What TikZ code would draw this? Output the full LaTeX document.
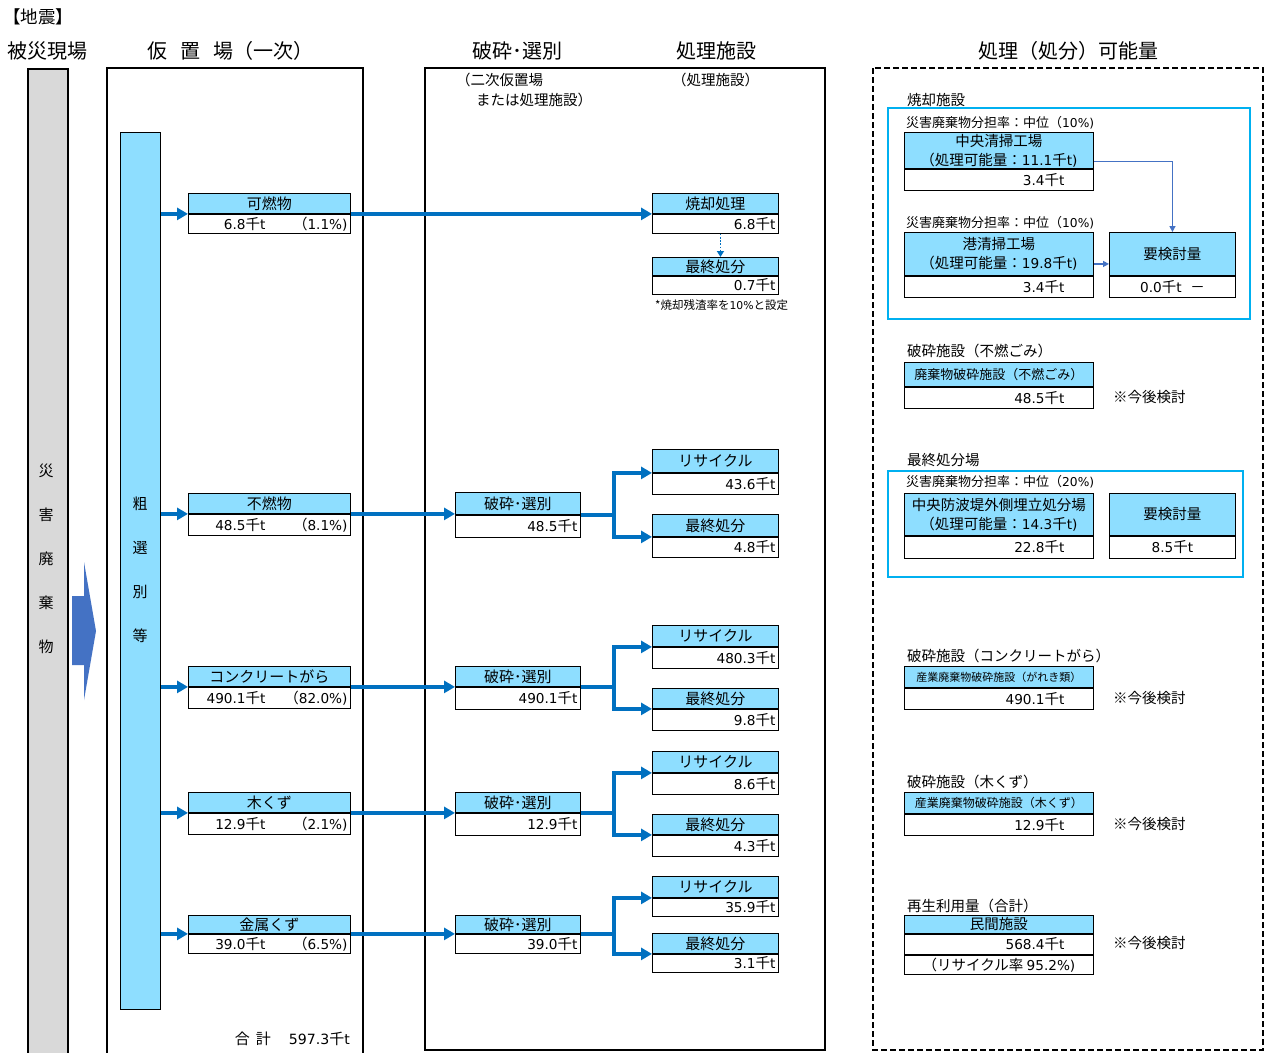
\documentclass[tikz,border=0pt]{standalone}
\usepackage{fontspec}
\setmainfont{Noto Sans CJK JP}
\newfontfamily\latfont{DejaVu Sans}[Scale=0.94]
\newXeTeXintercharclass\latcls
\XeTeXcharclass`0=\latcls \XeTeXcharclass`1=\latcls \XeTeXcharclass`2=\latcls
\XeTeXcharclass`3=\latcls \XeTeXcharclass`4=\latcls \XeTeXcharclass`5=\latcls
\XeTeXcharclass`6=\latcls \XeTeXcharclass`7=\latcls \XeTeXcharclass`8=\latcls
\XeTeXcharclass`9=\latcls \XeTeXcharclass`.=\latcls \XeTeXcharclass`\%=\latcls
\XeTeXcharclass`t=\latcls \XeTeXcharclass`)=\latcls
\XeTeXinterchartoks 0 \latcls = {\begingroup\latfont}
\XeTeXinterchartoks 4095 \latcls = {\begingroup\latfont}
\XeTeXinterchartoks \latcls 0 = {\endgroup}
\XeTeXinterchartoks \latcls 4095 = {\endgroup}
\usetikzlibrary{arrows.meta}
\definecolor{cy}{RGB}{142,222,255}
\definecolor{fblue}{RGB}{0,112,192}
\definecolor{sblue}{RGB}{68,114,196}
\definecolor{frm}{RGB}{0,176,240}
\definecolor{gbar}{RGB}{217,217,217}
\newcommand{\fs}[1]{\fontsize{#1}{#1}\selectfont}
% name, x, y, w, h1, h2, header, value
\newcommand{\tbox}[8]{%
  \node[hd, minimum width=#4pt, minimum height=#5pt, anchor=north west] (#1h) at (#2,#3) {#7};
  \node[vl, minimum width=#4pt, minimum height=#6pt, anchor=north west] (#1v) at (#1h.south west) {\makebox[\dimexpr#4pt-6pt\relax][r]{#8}};
}
\begin{document}
\XeTeXinterchartokenstate=1
\begin{tikzpicture}[x=1pt,y=-1pt,
  hd/.style={draw=black, line width=0.9pt, fill=cy, inner sep=0pt, font=\fs{15}, align=center},
  vl/.style={draw=black, line width=0.9pt, fill=white, inner ysep=0pt, inner xsep=3pt, font=\fs{14.5}},
  lbl/.style={inner sep=0pt, anchor=west, font=\fs{14.5}},
  ttl/.style={inner sep=0pt, font=\fs{20}},
  fl/.style={draw=fblue, line width=3.5pt, -{Triangle[length=11pt,width=12pt]}},
  tl/.style={draw=sblue, line width=1.4pt, -{Triangle[length=6pt,width=6pt]}},
  outer/.style={draw=black, line width=2pt}]
\useasboundingbox[fill=white] (0,0) rectangle (1268,1052);

% titles
\node[ttl, anchor=west, font=\fs{17.5}] (jishin) at (3,17) {【地震】};
\node[ttl] (t1) at (47,51) {被災現場};
\node[ttl, anchor=west] (t2) at (147,51) {仮\hspace{0.65em}置\hspace{0.65em}場（一次）};
\node[ttl] (t3) at (517,51) {破砕･選別};
\node[ttl] (t4) at (716,51) {処理施設};
\node[ttl] (t5) at (1068,51) {処理（処分）可能量};

% left gray bar
\node[draw=black, line width=1.5pt, fill=gbar, minimum width=40pt, minimum height=990pt, anchor=north west, inner sep=0pt] (gray) at (27,68) {};
\node[inner sep=0pt, align=center, font=\fontsize{15}{44}\selectfont] (gtext) at (46,559) {災\\害\\廃\\棄\\物};
\fill[sblue] (72,596) -- (84,596) -- (84,562) -- (96,631) -- (84,700) -- (84,665) -- (72,665) -- cycle;

% primary yard box
\draw[outer] (107,1056) -- (107,68) -- (363,68) -- (363,1056);
\node[draw=black, line width=1pt, fill=cy, minimum width=40pt, minimum height=877pt, anchor=north west, inner sep=0pt] (bar) at (120,132) {};
\node[inner sep=0pt, align=center, font=\fontsize{15}{44}\selectfont] (btext) at (140,570) {粗\\選\\別\\等};
\node[inner sep=0pt, anchor=east, font=\fs{15}] (total) at (350,1039) {合\hspace{0.4em}計\hspace{1.2em}597.3千t};

% middle outer box
\draw[outer] (425,68) rectangle (825,1050);
\node[lbl] (s1) at (456,80) {（二次仮置場};
\node[lbl] (s2) at (476,100) {または処理施設）};
\node[lbl] (s3) at (672,80) {（処理施設）};

% right dashed box
\draw[black, line width=1.6pt, dash pattern=on 6pt off 3pt] (873,68) rectangle (1263,1050);

% category boxes
\tbox{kane}{188}{193}{162}{20}{19}{可燃物}{\makebox[74pt][r]{6.8千t}\hfill（1.1\%)}
\tbox{fune}{188}{493}{162}{20}{21}{不燃物}{\makebox[74pt][r]{48.5千t}\hfill（8.1\%)}
\tbox{conc}{188}{666}{162}{20}{21}{コンクリートがら}{\makebox[74pt][r]{490.1千t}\hfill（82.0\%)}
\tbox{moku}{188}{792}{162}{20}{21}{木くず}{\makebox[74pt][r]{12.9千t}\hfill（2.1\%)}
\tbox{kinz}{188}{915}{162}{18}{19}{金属くず}{\makebox[74pt][r]{39.0千t}\hfill（6.5\%)}

% crushing/sorting boxes
\tbox{fune2}{455}{492}{125}{22}{22}{破砕･選別}{48.5千t}
\tbox{conc2}{455}{666}{125}{20}{22}{破砕･選別}{490.1千t}
\tbox{moku2}{455}{792}{125}{20}{22}{破砕･選別}{12.9千t}
\tbox{kinz2}{455}{915}{125}{18}{19}{破砕･選別}{39.0千t}

% treatment boxes
\tbox{sho}{652}{193}{126}{20}{19}{焼却処理}{6.8千t}
\tbox{shoF}{652}{257}{126}{18}{18}{最終処分}{0.7千t}
\node[inner sep=0pt, anchor=west, font=\fs{11.5}] (note) at (655,305) {*焼却残渣率を10\%と設定};
\tbox{ra}{652}{449}{126}{23}{21}{リサイクル}{43.6千t}
\tbox{fa}{652}{514}{126}{22}{20}{最終処分}{4.8千t}
\tbox{rb}{652}{625}{126}{21}{21}{リサイクル}{480.3千t}
\tbox{fb}{652}{688}{126}{20}{21}{最終処分}{9.8千t}
\tbox{rc}{652}{751}{126}{21}{21}{リサイクル}{8.6千t}
\tbox{fc}{652}{814}{126}{20}{21}{最終処分}{4.3千t}
\tbox{rd}{652}{876}{126}{21}{18}{リサイクル}{35.9千t}
\tbox{fd}{652}{933}{126}{20}{18}{最終処分}{3.1千t}

% arrows from coarse sorting bar
\foreach \n in {kane,fune,conc,moku,kinz}{
  \draw[fl] (bar.east |- \n v.north west) -- (\n v.north west);
}
\draw[fl] (kanev.north east) -- (kanev.north east -| shov.west);
\foreach \n in {fune,conc,moku,kinz}{
  \draw[fl] (\n v.north east) -- (\n v.north east -| \n 2v.west);
}
% branches
\draw[fl] (fune2v.north east) -- ++(33,0) coordinate (ja) |- (rav.north west);
\draw[fl] (ja) |- (fav.north west);
\draw[fl] (conc2v.north east) -- ++(33,0) coordinate (jb) |- (rbv.north west);
\draw[fl] (jb) |- (fbv.north west);
\draw[fl] (moku2v.north east) -- ++(33,0) coordinate (jc) |- (rcv.north west);
\draw[fl] (jc) |- (fcv.north west);
\draw[fl] (kinz2v.north east) -- ++(33,0) coordinate (jd) |- (rdv.north west);
\draw[fl] (jd) |- (fdv.north west);
\draw[draw=fblue, line width=1.6pt, dash pattern=on 1.6pt off 1.6pt, -{Triangle[length=6pt,width=7pt]}] ([xshift=5pt]shov.south) -- ([xshift=5pt]shoFh.north);

% right panel
\begin{scope}[hd/.append style={font=\fontsize{14.5}{19}\selectfont}]
\node[lbl] (l1) at (907,100) {焼却施設};
\draw[frm, line width=2pt] (888,108) rectangle (1250,319);
\node[lbl, font=\fs{13}] (l2) at (906,123) {災害廃棄物分担率：中位（10\%)};
\tbox{chuo}{904}{132}{189}{36}{21}{中央清掃工場\\（処理可能量：11.1千t)}{3.4千t\hspace{26pt}}
\node[lbl, font=\fs{13}] (l3) at (906,223) {災害廃棄物分担率：中位（10\%)};
\tbox{mina}{904}{232}{189}{43}{21}{港清掃工場\\（処理可能量：19.8千t)}{3.4千t\hspace{26pt}}
\tbox{yoa}{1109}{232}{126}{43}{21}{要検討量}{\hfill 0.0千t\hspace{0.6em}－\hfill}
\draw[tl] ([yshift=-11pt]chuoh.east) -| (yoah.north);
\draw[tl] ([yshift=-10pt]minah.east) -- ([yshift=-10pt]yoah.west);

\node[lbl] (l4) at (907,351) {破砕施設（不燃ごみ）};
\tbox{hsa}{904}{362}{189}{24}{21}{\fs{13}廃棄物破砕施設（不燃ごみ）}{48.5千t\hspace{26pt}}
\node[lbl] (k1) at (1113,397) {※今後検討};

\node[lbl] (l5) at (907,460) {最終処分場};
\draw[frm, line width=2pt] (888,471) rectangle (1243,577);
\node[lbl, font=\fs{13}] (l6) at (906,482) {災害廃棄物分担率：中位（20\%)};
\tbox{umet}{904}{493}{189}{42}{22}{中央防波堤外側埋立処分場\\（処理可能量：14.3千t)}{22.8千t\hspace{26pt}}
\tbox{yob}{1109}{493}{126}{42}{22}{要検討量}{\hfill 8.5千t\hfill}

\node[lbl] (l7) at (907,656) {破砕施設（コンクリートがら）};
\tbox{hsb}{904}{666}{189}{21}{21}{\fs{11}産業廃棄物破砕施設（がれき類）}{490.1千t\hspace{26pt}}
\node[lbl] (k2) at (1113,698) {※今後検討};

\node[lbl] (l8) at (907,782) {破砕施設（木くず）};
\tbox{hsc}{904}{792}{189}{21}{21}{\fs{12}産業廃棄物破砕施設（木くず）}{12.9千t\hspace{26pt}}
\node[lbl] (k3) at (1113,824) {※今後検討};

\node[lbl] (l9) at (907,906) {再生利用量（合計）};
\tbox{mink}{904}{915}{189}{18}{20}{民間施設}{568.4千t\hspace{26pt}}
\node[vl, minimum width=189pt, minimum height=19pt, anchor=north west] (minkr) at (minkv.south west) {\makebox[183pt][c]{（リサイクル率 95.2\%)}};
\node[lbl] (k4) at (1113,943) {※今後検討};
\end{scope}
\end{tikzpicture}
\end{document}
